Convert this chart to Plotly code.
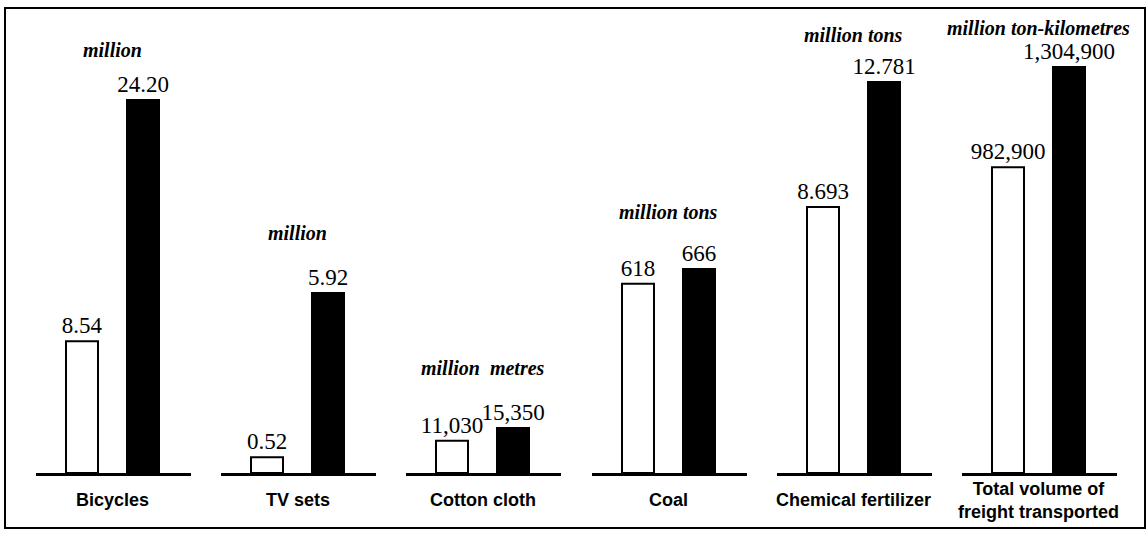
import plotly.graph_objects as go

# ---- data ----
categories = ["Bicycles", "TV sets", "Cotton cloth", "Coal",
              "Chemical fertilizer", "Total volume of<br>freight transported"]
units = ["million", "million", "million  metres", "million tons",
         "million tons", "million ton-kilometres"]
earlier = [8.54, 0.52, 11030, 618, 8.693, 982900]
later = [24.20, 5.92, 15350, 666, 12.781, 1304900]
value_formats = [".2f", ".2f", ",d", "d", ".3f", ",d"]
periods = ["earlier", "later"]

# ---- layout parameters (pixels) ----
W, H = 1148, 533
baseline_px = 473
top_px = 20
plot_h = baseline_px - top_px
group_left = [36, 221, 406, 592, 777, 962]
group_w = 155
first_bar_off = 46
bar_step = 61
bar_w_px = 32
tallest_px = [373, 180, 45, 204, 391, 406]   # drawn height of the taller bar in each panel
unit_gap = [50, 60, 60, 57, 47, 39]

SERIF = "Liberation Serif"
VAL_FONT = dict(family=SERIF, size=23, color="black")
UNIT_FONT = dict(family=SERIF, size=20, color="black")
CAT_FONT = dict(family="Liberation Sans, Arial, sans-serif", size=18, color="black")

fig = go.Figure()
layout_axes = {}
annotations = []

for i, cat in enumerate(categories):
    n = "" if i == 0 else str(i + 1)
    xa, ya = "x" + n, "y" + n
    fmt = value_formats[i]
    for val, period, fill in [(earlier[i], periods[0], "white"), (later[i], periods[1], "black")]:
        fig.add_trace(go.Bar(
            x=[period], y=[val], xaxis=xa, yaxis=ya,
            width=bar_w_px / bar_step,
            marker=dict(color=fill, line=dict(color="black", width=2)),
            texttemplate="%{y:" + fmt + "}", textposition="outside",
            textfont=VAL_FONT, constraintext="none", cliponaxis=False,
            showlegend=False, hoverinfo="skip",
        ))
    x0 = group_left[i] / W
    x1 = (group_left[i] + group_w) / W
    layout_axes["xaxis" + n] = dict(
        domain=[x0, x1], anchor=ya, type="category",
        categoryorder="array", categoryarray=periods,
        range=[-first_bar_off / bar_step, 1 + (group_w - first_bar_off - bar_step) / bar_step],
        showline=True, linecolor="black", linewidth=3, showticklabels=False,
        ticks="", showgrid=False, zeroline=False, fixedrange=True,
    )
    layout_axes["yaxis" + n] = dict(
        domain=[1 - baseline_px / H, 1 - top_px / H], anchor=xa,
        range=[0, later[i] * plot_h / tallest_px[i]],
        visible=False, showgrid=False, zeroline=False, fixedrange=True,
    )
    annotations.append(dict(
        text="<b><i>" + units[i] + "</i></b>", xref=xa, yref=ya, x=0.5, y=later[i],
        yshift=unit_gap[i], xanchor="center", yanchor="middle", showarrow=False,
        font=UNIT_FONT,
    ))
    annotations.append(dict(
        text="<b>" + cat.replace("<br>", "</b><br><b>") + "</b>", xref=xa, yref=ya,
        x=0.5, y=0, yshift=-27, xanchor="center", yanchor="middle", showarrow=False,
        font=CAT_FONT,
    ))

fig.update_layout(
    width=W, height=H, autosize=False,
    margin=dict(l=0, r=0, t=0, b=0),
    paper_bgcolor="white", plot_bgcolor="rgba(0,0,0,0)",
    barmode="overlay",
    annotations=annotations,
    shapes=[dict(type="rect", xref="paper", yref="paper",
                 x0=5 / W, x1=1145 / W, y0=1 - 528 / H, y1=1 - 8 / H,
                 line=dict(color="black", width=2))],
    **layout_axes,
)

fig.write_html("out.html", config={"displayModeBar": False},
               post_script="document.body.style.margin='0px';document.body.style.padding='0px';")
